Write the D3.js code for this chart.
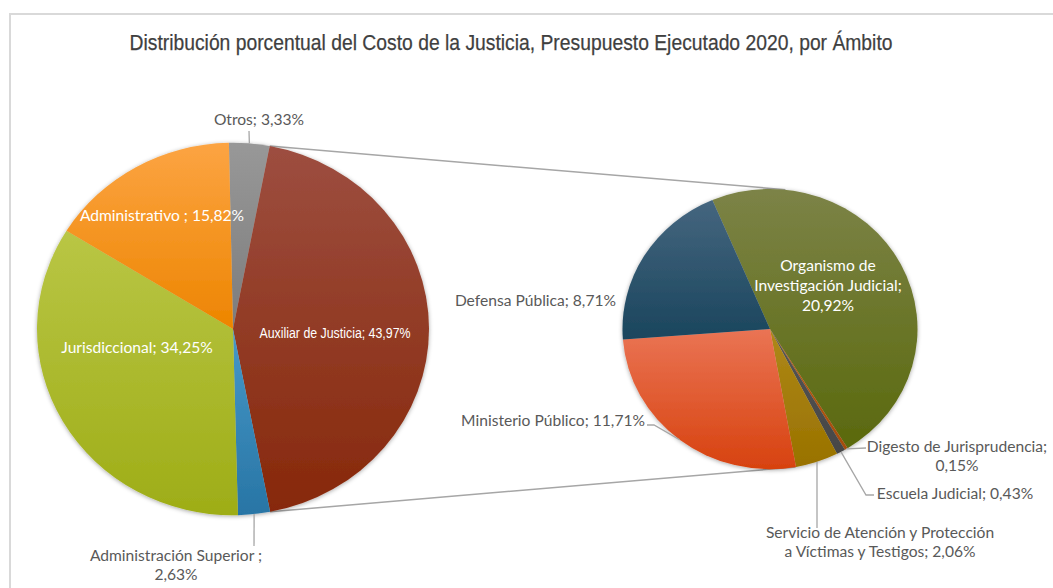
<!DOCTYPE html>
<html><head><meta charset="utf-8">
<script src="https://cdn.jsdelivr.net/npm/d3@7"></script>
<style>body{margin:0;background:#fff}svg{display:block}</style>
</head><body><svg id="c" width="1053" height="588"></svg>
<script>
// ---------- DATA ----------
const chartTitle = "Distribución porcentual del Costo de la Justicia, Presupuesto Ejecutado 2020, por Ámbito";
const primaryCategories = ["Otros", "Auxiliar de Justicia", "Administración Superior", "Jurisdiccional", "Administrativo"];
const primaryValues = [3.33, 43.97, 2.63, 34.25, 15.82];
const primaryLabels = [["Otros; 3,33%"], ["Auxiliar de Justicia; 43,97%"], ["Administración Superior ;", "2,63%"], ["Jurisdiccional; 34,25%"], ["Administrativo ; 15,82%"]];
const secondaryCategories = ["Organismo de Investigación Judicial", "Digesto de Jurisprudencia", "Escuela Judicial", "Servicio de Atención y Protección a Víctimas y Testigos", "Ministerio Público", "Defensa Pública"];
const secondaryValues = [20.92, 0.15, 0.43, 2.06, 11.71, 8.71];
const secondaryLabels = [["Organismo de", "Investigación Judicial;", "20,92%"], ["Digesto de Jurisprudencia;", "0,15%"], ["Escuela Judicial; 0,43%"], ["Servicio de Atención y Protección", "a Víctimas y Testigos; 2,06%"], ["Ministerio Público; 11,71%"], ["Defensa Pública; 8,71%"]];
const expandedIndex = 1; // "Auxiliar de Justicia" is split into the secondary pie

// ---------- STYLE / LAYOUT ----------
const primaryColors = [["#989898","#7c7c7c"],["#9d4e40","#87280a"],["#4698c8","#2875a5"],["#b9c645","#9ead17"],["#fca443","#ed8500"]];
const secondaryColors = [["#7c8347","#5a690d"],["#bb5e14","#a54c07"],["#565656","#464646"],["#ae8818","#997200"],["#ea7454","#d7420f"],["#45667f","#1a455d"]];
const grey = "#595959", lineGrey = "#a6a6a6";
const labelFont = 15.6;
const yRatio = 0.95;
const P = {cx: 233, cy: 329, r: 196, start: -1.2};
const S = {cx: 770, cy: 329, r: 147.5, start: -23};
const connectorAngles = [6, 170]; // where connector lines meet the secondary pie (deg)

// label layout: [dx, dy(first baseline), anchor, fill, lineHeight, leader points (relative to centre)]
const primaryLabelLayout = [
  {dx: 26, dy: -204, a: "middle", fill: grey, leader: [[16, -198]]},
  {dx: 102, dy: 9, a: "middle", fill: "#fff", narrow: 151},
  {dx: -57, dy: 232, a: "middle", fill: grey, lh: 19, leader: [[21, 217]]},
  {dx: -96, dy: 24, a: "middle", fill: "#fff"},
  {dx: -71, dy: -108, a: "middle", fill: "#fff"}
];
const secondaryLabelLayout = [
  {dx: 58, dy: -58, a: "middle", fill: "#fff", lh: 20},
  {dx: 187, dy: 123, a: "middle", fill: grey, lh: 19, leader: [[96, 119]]},
  {dx: 185, dy: 170, a: "middle", fill: grey, leader: [[96, 166], [104, 166]]},
  {dx: 110, dy: 209, a: "middle", fill: grey, lh: 19, leader: [[47, 199]]},
  {dx: -125, dy: 97, a: "end", fill: grey, leader: [[-116, 96], [-123, 96]]},
  {dx: -154, dy: -23, a: "end", fill: grey}
];

const svg = d3.select("#c");
const rad = d => d * Math.PI / 180;
const defs = svg.append("defs");
const f = defs.append("filter").attr("id", "sh").attr("x", "-10%").attr("y", "-10%").attr("width", "120%").attr("height", "120%");
f.append("feDropShadow").attr("dx", 0).attr("dy", 1).attr("stdDeviation", 2.2).attr("flood-color", "#000").attr("flood-opacity", 0.35);

function grad(id, c) {
  const g = defs.append("linearGradient").attr("id", id).attr("x1", 0).attr("y1", 0).attr("x2", 0).attr("y2", 1);
  g.append("stop").attr("offset", "0%").attr("stop-color", c[0]);
  g.append("stop").attr("offset", "100%").attr("stop-color", c[1]);
}
primaryColors.forEach((c, i) => grad("pg" + i, c));
secondaryColors.forEach((c, i) => grad("sg" + i, c));

// border
svg.append("rect").attr("x", 10).attr("y", 14).attr("width", 1200).attr("height", 800)
  .attr("fill", "none").attr("stroke", "#d9d9d9").attr("stroke-width", 2);

// title
svg.append("text").attr("x", 511).attr("y", 50).attr("text-anchor", "middle")
  .attr("font-family", "Liberation Sans, Arial, sans-serif").attr("font-size", 21.5)
  .attr("textLength", 763).attr("lengthAdjust", "spacingAndGlyphs")
  .attr("fill", "#3f3f3f").attr("stroke", "#3f3f3f").attr("stroke-width", 0.25).text(chartTitle);

function pt(p, angDeg, k = 1) {
  const a = rad(angDeg);
  return [p.cx + k * p.r * Math.sin(a), p.cy - k * p.r * yRatio * Math.cos(a)];
}

function drawPie(p, values, colors, prefix) {
  const pie = d3.pie().sort(null).startAngle(rad(p.start)).endAngle(rad(p.start) + 2 * Math.PI);
  const arcs = pie(values);
  const arc = d3.arc().innerRadius(0).outerRadius(p.r);
  const g = svg.append("g").attr("transform", `translate(${p.cx},${p.cy}) scale(1,${yRatio})`);
  g.append("g").attr("filter", "url(#sh)").selectAll("path").data(arcs).join("path")
    .attr("d", arc).attr("fill", (d, i) => `url(#${prefix}${i})`);
  return arcs;
}

// connectors (drawn first, under pies)
const pArcsTmp = d3.pie().sort(null).startAngle(rad(P.start)).endAngle(rad(P.start) + 2 * Math.PI)(primaryValues);
const exp = pArcsTmp[expandedIndex];
const conn = svg.append("g");
[[exp.startAngle, connectorAngles[0]], [exp.endAngle, connectorAngles[1]]].forEach(([a0, a1]) => {
  const p0 = pt(P, a0 * 180 / Math.PI), p1 = pt(S, a1);
  conn.append("line").attr("x1", p0[0]).attr("y1", p0[1]).attr("x2", p1[0]).attr("y2", p1[1])
    .attr("stroke", lineGrey).attr("stroke-width", 1.5);
});

const pArcs = drawPie(P, primaryValues, primaryColors, "pg");
const sArcs = drawPie(S, secondaryValues, secondaryColors, "sg");

function drawLabels(p, arcs, labels, layout) {
  const g = svg.append("g");
  arcs.forEach((d, i) => {
    const L = layout[i];
    if (L.leader) {
      const mid = ((d.startAngle + d.endAngle) / 2) * 180 / Math.PI;
      const pts = [pt(p, mid)].concat(L.leader.map(q => [p.cx + q[0], p.cy + q[1]]));
      g.append("path").attr("d", d3.line()(pts)).attr("fill", "none").attr("stroke", lineGrey).attr("stroke-width", 1.3);
    }
    const t = g.append("text").attr("text-anchor", L.a).attr("fill", L.fill)
      .attr("font-family", L.narrow ? "Liberation Sans, Arial, sans-serif" : "Lato, Carlito, Calibri, sans-serif")
      .attr("font-size", L.narrow ? 14 : labelFont);
    labels[i].forEach((s, j) => {
      const ts = t.append("tspan").attr("x", p.cx + L.dx).attr("y", p.cy + L.dy + j * (L.lh || 19)).text(s);
      if (L.narrow) ts.attr("textLength", L.narrow).attr("lengthAdjust", "spacingAndGlyphs");
    });
  });
}
drawLabels(P, pArcs, primaryLabels, primaryLabelLayout);
drawLabels(S, sArcs, secondaryLabels, secondaryLabelLayout);
</script></body></html>
